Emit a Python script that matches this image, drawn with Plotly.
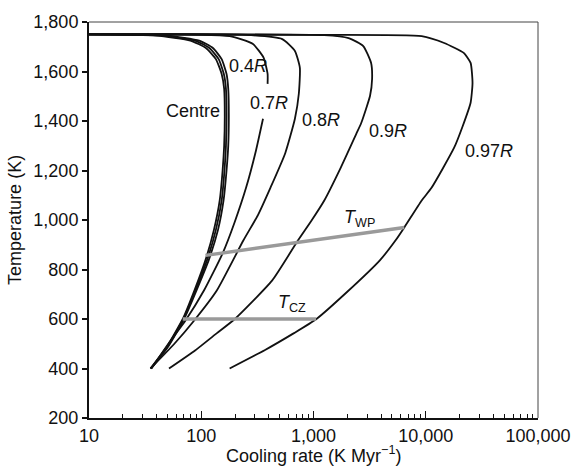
import math
import plotly.graph_objects as go

# ---- data (cooling rate in K/Myr, temperature in K) ----
bundle_temp = [1750, 1745, 1725, 1695, 1650, 1590, 1530, 1420, 1300, 1200, 1079, 960, 840, 720, 600, 490, 400]
centre_rate = [10, 40, 80, 110, 135, 152, 160, 162, 160, 155, 146, 129.7, 109.4, 87.7, 68.4, 49.7, 35.3]
mid_rate = [10, 45, 88, 118, 143, 159, 166, 168, 166, 161, 152, 135, 113, 89.5, 69.3, 50.3, 35.5]
r04_rate = [10, 50, 96, 127, 152, 168, 174, 176, 174, 168, 158, 141, 117, 91.5, 70.3, 51, 35.8]

r07_rate = [10, 179, 289, 360, 390, 390, None, 355, 307, 251, 198, 155, 106, 72.6, 50.6, 36]
r07_temp = [1750, 1743, 1711, 1655, 1590, 1550, None, 1409, 1280, 1131, 990, 865, 716, 595, 498, 400]

r08_rate = [10, 250, 527, 683, 756, 740, 683, 560, 414, 320, 237, 138, 86.9, 57.1, 35.3]
r08_temp = [1750, 1748, 1731, 1683, 1615, 1510, 1409, 1270, 1131, 1020, 917, 716, 595, 498, 400]

r09_rate = [10, 1247, 2055, 2775, 3256, 3326, 3190, 2667, 2410, 1750, 1247, 961, 726, 429, 198, 138, 88.7, 51.6]
r09_temp = [1750, 1747, 1735, 1703, 1635, 1570, 1502, 1393, 1349, 1212, 1079, 998, 917, 756, 599, 543, 474, 400]

r097_rate = [10, 700, 9200, 14600, 21800, 25100, 26100, 25100, 21400, 17900, 11300, 9200, 6440, 5370,
             3900, 1977, 1055, 670, 367, 179]
r097_temp = [1750, 1748, 1743, 1715, 1675, 1635, 1554, 1474, 1381, 1292, 1131, 1079, 970, 917,
             837, 708, 599, 543, 474, 400]

twp_rate = [109, 6440]
twp_temp = [857, 970]
tcz_rate = [68.4, 1055]
tcz_temp = [600, 600]

x_tickvals = [10, 100, 1000, 10000, 100000]
x_ticktext = ["10", "100", "1,000", "10,000", "100,000"]
y_tickvals = [200, 400, 600, 800, 1000, 1200, 1400, 1600, 1800]

# labels: (text, rate, temp, anchor)
curve_labels = [
    ("Centre", 152, 1441, "right"),
    ("0.4<i>R</i>", 168, 1623, "left"),
    ("0.7<i>R</i>", 261, 1473, "left"),
    ("0.8<i>R</i>", 760, 1403, "left"),
    ("0.9<i>R</i>", 3006, 1361, "left"),
    ("0.97<i>R</i>", 21380, 1278, "left"),
    ("<i>T</i><sub>WP</sub>", 1790, 1005, "left"),
    ("<i>T</i><sub>CZ</sub>", 465, 662, "left"),
]

FONT = "Liberation Sans, Arial, Helvetica, sans-serif"

fig = go.Figure()
for xs, ys in [(centre_rate, bundle_temp), (mid_rate, bundle_temp), (r04_rate, bundle_temp),
               (r07_rate, r07_temp), (r08_rate, r08_temp), (r09_rate, r09_temp),
               (r097_rate, r097_temp)]:
    fig.add_trace(go.Scatter(x=xs, y=ys, mode="lines", connectgaps=False,
                             line=dict(color="#111111", width=1.8, shape="spline", smoothing=0.5),
                             showlegend=False, hoverinfo="skip"))
for xs, ys in [(twp_rate, twp_temp), (tcz_rate, tcz_temp)]:
    fig.add_trace(go.Scatter(x=xs, y=ys, mode="lines",
                             line=dict(color="#9a9a9a", width=3.5),
                             showlegend=False, hoverinfo="skip"))

for text, xv, yv, anchor in curve_labels:
    fig.add_annotation(x=math.log10(xv), y=yv, text=text, showarrow=False,
                       xanchor=anchor, yanchor="middle",
                       font=dict(family=FONT, size=18, color="#111111"))

# axis titles
fig.add_annotation(xref="paper", yref="paper", x=0.5, y=-0.093, text="Cooling rate (K Myr<sup>−1</sup>)",
                   showarrow=False, xanchor="center", yanchor="middle",
                   font=dict(family=FONT, size=18, color="#111111"))
fig.add_annotation(xref="paper", yref="paper", x=-0.165, y=0.5, text="Temperature (K)", textangle=-90,
                   showarrow=False, xanchor="center", yanchor="middle",
                   font=dict(family=FONT, size=18, color="#111111"))

# thin top/right frame
fig.add_shape(type="line", xref="paper", yref="paper", x0=0, x1=1, y0=1, y1=1,
              line=dict(color="#444444", width=1))
fig.add_shape(type="line", xref="paper", yref="paper", x0=1, x1=1, y0=0, y1=1,
              line=dict(color="#444444", width=1))

minor_vals = [m * 10 ** d for d in range(1, 5) for m in range(2, 10)]

fig.update_layout(
    width=583, height=468,
    margin=dict(l=89, r=34, t=21, b=50),
    paper_bgcolor="white", plot_bgcolor="white",
    font=dict(family=FONT, size=18, color="#111111"),
    xaxis=dict(type="log", range=[1, 5], tickmode="array", tickvals=x_tickvals, ticktext=x_ticktext,
               ticks="inside", ticklen=7, tickwidth=1.2, tickcolor="#111111",
               showline=True, linecolor="#111111", linewidth=2, showgrid=False, zeroline=False,
               minor=dict(tickmode="array", tickvals=minor_vals, ticks="inside", ticklen=4,
                          tickwidth=1, tickcolor="#111111", showgrid=False),
               tickfont=dict(family=FONT, size=18, color="#111111")),
    yaxis=dict(range=[200, 1800], tickmode="array", tickvals=y_tickvals, tickformat=",",
               ticks="outside", ticklen=5, tickwidth=1.5, tickcolor="#111111",
               showline=True, linecolor="#111111", linewidth=2, showgrid=False, zeroline=False,
               tickfont=dict(family=FONT, size=18, color="#111111")),
)

fig.write_html("out.html", config={"displayModeBar": False},
               post_script="document.body.style.margin='0';document.body.style.overflow='hidden';")
